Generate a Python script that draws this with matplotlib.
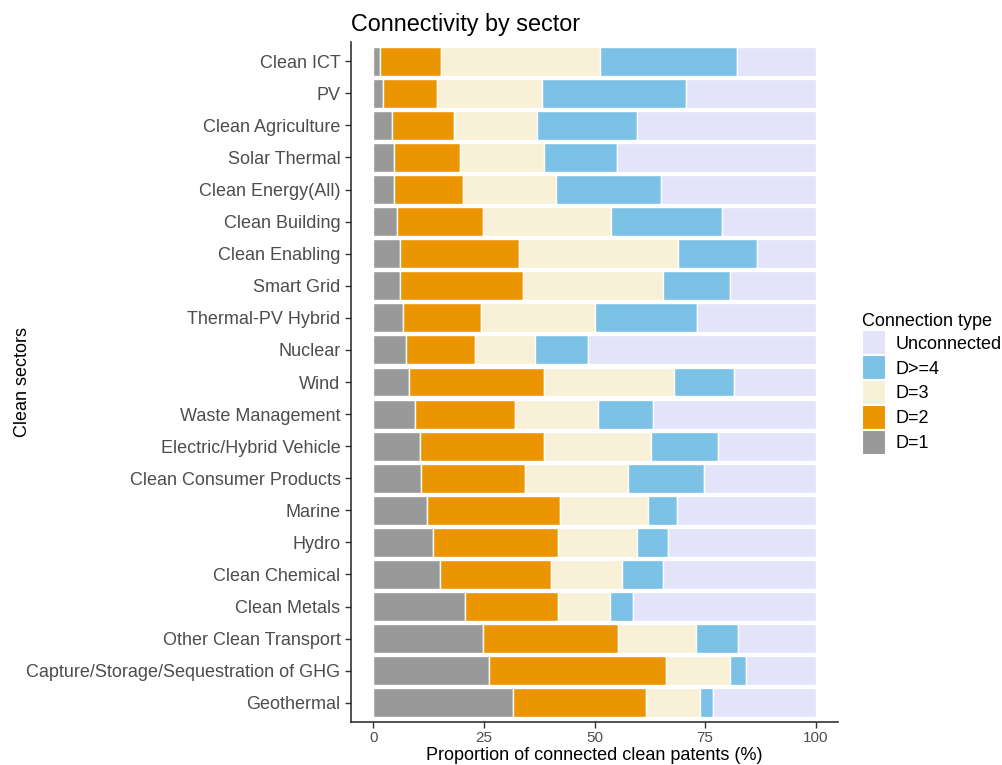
import matplotlib
matplotlib.use("Agg")
import matplotlib.pyplot as plt
from matplotlib.patches import Patch
import numpy as np

plt.rcParams['font.family'] = ['Liberation Sans', 'DejaVu Sans']

sectors = ["Clean ICT", "PV", "Clean Agriculture", "Solar Thermal", "Clean Energy(All)",
           "Clean Building", "Clean Enabling", "Smart Grid", "Thermal-PV Hybrid", "Nuclear",
           "Wind", "Waste Management", "Electric/Hybrid Vehicle", "Clean Consumer Products",
           "Marine", "Hydro", "Clean Chemical", "Clean Metals", "Other Clean Transport",
           "Capture/Storage/Sequestration of GHG", "Geothermal"]

# cumulative boundaries (%)
cum_d1 = [1.5, 2.3, 4.2, 4.7, 4.7, 5.5, 6.0, 6.0, 6.8, 7.4, 8.2, 9.4, 10.5, 10.7,
          12.2, 13.6, 15.1, 20.8, 24.8, 26.2, 31.7]
cum_d2 = [15.4, 14.4, 18.3, 19.6, 20.4, 24.8, 33.0, 33.8, 24.4, 23.1, 38.7, 32.0, 38.5, 34.2,
          42.1, 41.7, 40.2, 41.7, 55.3, 66.2, 61.7]
cum_d3 = [51.3, 38.2, 36.9, 38.7, 41.2, 53.8, 68.9, 65.4, 50.2, 36.5, 67.9, 50.8, 62.8, 57.5,
          62.0, 59.5, 56.1, 53.5, 72.9, 80.6, 73.8]
cum_d4 = [82.1, 70.7, 59.5, 55.0, 65.0, 78.9, 86.8, 80.6, 73.2, 48.6, 81.4, 63.2, 77.8, 74.7,
          68.7, 66.7, 65.4, 58.6, 82.3, 84.3, 76.8]

d1 = np.array(cum_d1)
d2 = np.array(cum_d2) - np.array(cum_d1)
d3 = np.array(cum_d3) - np.array(cum_d2)
d4 = np.array(cum_d4) - np.array(cum_d3)
unc = 100 - np.array(cum_d4)

series = [("D=1", d1, "#999999"), ("D=2", d2, "#EB9500"), ("D=3", d3, "#F9F0D8"),
          ("D>=4", d4, "#7BC2E6"), ("Unconnected", unc, "#E3E3F9")]

fig = plt.figure(figsize=(10.03, 7.65), dpi=100)
ax = fig.add_axes([351/1003, 1 - 722/765, (838 - 351)/1003, (722 - 42)/765])

n = len(sectors)
y = np.arange(n)[::-1] + 1
left = np.zeros(n)
for name, vals, col in series:
    ax.barh(y, vals, left=left, height=0.9, color=col, edgecolor="white", linewidth=1.0)
    left = left + vals

ax.set_xlim(-5, 105)
ax.set_ylim(0.4, n + 0.6)
ax.set_yticks(y)
ax.set_yticklabels(sectors)
ax.set_xticks([0, 25, 50, 75, 100])
ax.set_xticklabels(["0", "25", "50", "75", "100"])
ax.tick_params(axis="both", colors="#333333", labelcolor="#4D4D4D", length=4, width=1)
ax.tick_params(axis="y", labelsize=13)
ax.tick_params(axis="x", labelsize=11, pad=2.5)
for s in ["top", "right"]:
    ax.spines[s].set_visible(False)
for s in ["left", "bottom"]:
    ax.spines[s].set_color("#333333")
    ax.spines[s].set_linewidth(1.2)

ax.set_xlabel("Proportion of connected clean patents (%)", fontsize=13, color="black")
ax.xaxis.label.set_va("baseline")
ax.xaxis.set_label_coords(0.5, (722 - 759.5) / 680)
ax.set_ylabel("Clean sectors", fontsize=13, color="black")
ax.yaxis.label.set_va("baseline")
ax.yaxis.set_label_coords((27 - 351) / 487, 0.5)
fig.text(351/1003, 1 - 31.5/765, "Connectivity by sector", fontsize=16.8, ha="left", va="baseline")

handles = [Patch(facecolor=col, edgecolor="white", linewidth=1.5, label=name)
           for name, vals, col in series[::-1]]
leg = fig.legend(handles=handles, loc="upper left", bbox_to_anchor=(855/1003, 1 - 306/765),
                 title="Connection type", fontsize=13, title_fontsize=13, frameon=False,
                 handlelength=1.3, handleheight=1.75, labelspacing=0.0, handletextpad=0.55,
                 alignment="left", borderaxespad=0)

fig.savefig("out.png", dpi=100)
